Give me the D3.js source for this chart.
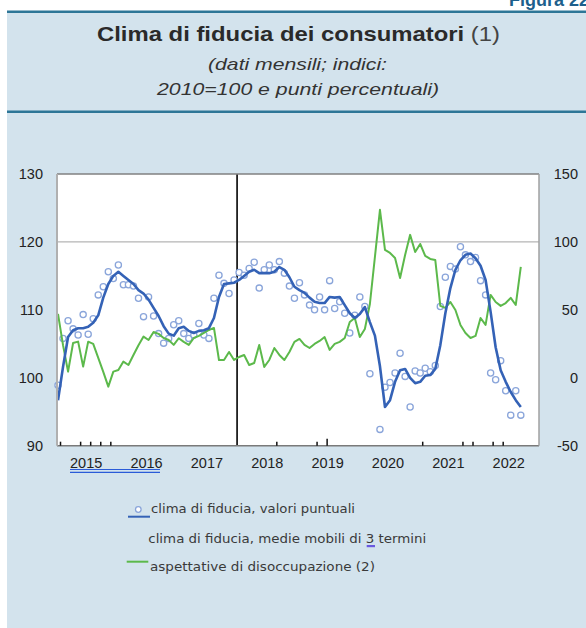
<!DOCTYPE html>
<html><head><meta charset="utf-8">
<script src="https://cdn.jsdelivr.net/npm/d3@7"></script>
<style>
html,body{margin:0;padding:0;background:#fff;}
svg{display:block;}
</style></head><body>
<svg id="chart" width="586" height="628"></svg>
<script>
// ---------- data ----------
const startYear = 2015;           // first month: January 2015
const yearLabels = ["2015","2016","2017","2018","2019","2020","2021","2022"];
const leftTicks = [90, 100, 110, 120, 130];
const rightTicks = [-50, 0, 50, 100, 150];

// Clima di fiducia, valori puntuali (left axis), Jan 2015 - Sep 2022 (Apr 2020 not surveyed)
const confidence = [
  98.9,105.8,108.4,107.2,106.3,109.3,106.4,108.7,112.2,113.4,115.6,114.6,
  116.6,113.7,113.7,113.5,111.7,109.0,111.9,109.1,106.5,105.1,105.8,107.8,
  108.4,106.5,105.8,106.3,108.0,106.3,105.8,111.7,115.1,113.9,112.4,114.4,
  115.5,115.1,116.1,117.0,113.2,115.9,116.6,115.9,117.1,115.4,113.5,111.7,
  114.0,112.2,110.7,110.0,111.9,110.0,114.3,110.2,111.2,109.5,106.6,109.2,
  111.9,110.5,100.6,null,92.4,98.6,99.3,100.7,103.6,100.2,95.7,101.0,
  100.7,101.4,100.9,101.8,110.5,114.8,116.4,116.0,119.3,118.1,117.1,117.7,
  114.3,112.2,100.7,99.7,102.5,98.1,94.5,98.1,94.5
];
// Clima di fiducia, medie mobili di 3 termini (left axis)
const confidenceMA = [
  96.7,101.6,106.0,107.0,107.3,107.3,107.5,108.1,109.2,111.8,113.8,115.0,
  115.6,115.0,114.4,113.8,112.9,112.4,111.5,110.3,109.1,107.6,106.5,106.2,
  107.3,107.5,106.9,106.6,106.9,107.0,107.3,108.8,111.9,113.8,113.9,114.0,
  114.4,115.0,115.6,115.9,115.4,115.4,115.4,115.6,116.3,115.9,114.8,113.4,
  112.9,112.5,111.8,111.2,111.0,111.0,111.9,111.8,111.9,110.7,109.5,108.8,
  109.4,110.4,108.2,106.2,101.7,95.7,96.7,99.4,101.1,101.3,100.0,99.2,
  99.4,100.3,100.4,101.3,104.8,109.5,113.2,115.9,117.3,118.1,118.3,117.6,
  116.5,114.4,109.7,104.5,101.1,99.4,97.9,96.7,95.7
];
// Aspettative di disoccupazione (right axis, saldi)
const unemploymentExp = [
  47,24,4.5,25.6,26.6,8.2,26.6,25,14.6,4.3,-6.5,4.5,
  5.7,11.9,9.4,16.8,24,30.3,27.8,33.7,32.3,29.3,27.8,24.2,
  29.1,26.4,24.2,29.3,30.8,33,35.2,36.7,13.1,13.1,19,13.1,
  15.3,16.8,9.4,10.9,24.2,8,13.1,21.9,16.8,13.1,19,26.4,
  28.6,24.2,21.9,24.9,27.1,30,20.5,24.9,26.4,29.3,41.1,44,
  30,35.9,54.3,null,123.6,94.1,91.9,88.2,73.5,90.4,105.2,92.6,
  98.5,89.7,87.5,86.7,52.9,51.4,55.8,49.9,38.9,33,29.3,30.8,
  44,38.9,61,55.8,52.9,55,58.8,53.6,81.6
];
const breakMonth = 35.6;   // vertical marker (end of 2017)
const strayTicks = [0.5,4.5,6.5,8.5,10.5,43.5,51.5,53.5,72.5,80.5,82.5,86.5,88.5];
const legendLabels = [
  "clima di fiducia, valori puntuali",
  "clima di fiducia, medie mobili di 3 termini",
  "aspettative di disoccupazione (2)"
];

const months = d3.range(confidence.length).map(i => ({
  idx: i, year: startYear + Math.floor(i / 12), month: i % 12 + 1
}));

// ---------- layout ----------
const svg = d3.select("#chart");
const W = 586, H = 628;
const P = {left: 57, right: 539, top: 174, bottom: 445.7};
const colBlue = "#3462b6", colCirc = "#8aa5da", colGreen = "#5cb94b";
const sans = "Liberation Sans, Arial, sans-serif";

svg.append("rect").attr("width", W).attr("height", H).attr("fill", "#fff");
svg.append("rect").attr("x", 7).attr("y", 11).attr("width", W - 7).attr("height", H - 11).attr("fill", "#d3e3ed");
svg.append("line").attr("x1", 7).attr("x2", W).attr("y1", 11.7).attr("y2", 11.7).attr("stroke", "#2d7697").attr("stroke-width", 2.4);
svg.append("line").attr("x1", 7).attr("x2", W).attr("y1", 111.7).attr("y2", 111.7).attr("stroke", "#2d7697").attr("stroke-width", 2.4);

svg.append("text").attr("x", 509).attr("y", 6).attr("font-family", sans)
  .attr("font-size", 18).attr("font-weight", "bold").attr("fill", "#1d5f8c").text("Figura 22");

const title = svg.append("text").attr("x", 97).attr("y", 41)
  .attr("font-family", sans).attr("font-size", 21).attr("fill", "#2a2a2a")
  .attr("textLength", 403).attr("lengthAdjust", "spacingAndGlyphs");
title.append("tspan").attr("font-weight", "bold").text("Clima di fiducia dei consumatori ");
title.append("tspan").attr("fill", "#444").text("(1)");

svg.append("text").attr("x", 208).attr("y", 70)
  .attr("font-family", sans).attr("font-size", 17).attr("font-style", "italic")
  .attr("textLength", 179).attr("lengthAdjust", "spacingAndGlyphs")
  .attr("fill", "#333").text("(dati mensili; indici:");
svg.append("text").attr("x", 157).attr("y", 95)
  .attr("font-family", sans).attr("font-size", 17).attr("font-style", "italic")
  .attr("textLength", 282).attr("lengthAdjust", "spacingAndGlyphs")
  .attr("fill", "#333").text("2010=100 e punti percentuali)");

// ---------- scales ----------
const x = d3.scaleLinear().domain([0, 92]).range([58, 520.8]);
const yL = d3.scaleLinear().domain([90, 130]).range([P.bottom, P.top]);
const yR = d3.scaleLinear().domain([-50, 150]).range([P.bottom, P.top]);

svg.append("rect").attr("x", P.left).attr("y", P.top).attr("width", P.right - P.left)
  .attr("height", P.bottom - P.top).attr("fill", "#fff");

// gridline
svg.append("line").attr("x1", P.left).attr("x2", P.right).attr("y1", yL(120)).attr("y2", yL(120))
  .attr("stroke", "#b5b5b5").attr("stroke-width", 1.3);

// vertical marker
svg.append("line").attr("x1", x(breakMonth)).attr("x2", x(breakMonth)).attr("y1", P.top).attr("y2", P.bottom)
  .attr("stroke", "#111").attr("stroke-width", 1.7);

// circles
const pts = months.map(m => ({i: m.idx, v: confidence[m.idx]})).filter(d => d.v != null);
svg.append("g").selectAll("circle").data(pts).join("circle")
  .attr("cx", d => x(d.i)).attr("cy", d => yL(d.v)).attr("r", 3.1)
  .attr("fill", "#fff").attr("stroke", colCirc).attr("stroke-width", 1.3);

// green line
const gData = months.map(m => ({i: m.idx, v: unemploymentExp[m.idx]})).filter(d => d.v != null);
svg.append("path").datum(gData)
  .attr("d", d3.line().x(d => x(d.i)).y(d => yR(d.v)))
  .attr("fill", "none").attr("stroke", colGreen).attr("stroke-width", 2).attr("stroke-linejoin", "round");

// blue moving average
const bData = months.map(m => ({i: m.idx, v: confidenceMA[m.idx]}));
svg.append("path").datum(bData)
  .attr("d", d3.line().x(d => x(d.i)).y(d => yL(d.v)))
  .attr("fill", "none").attr("stroke", colBlue).attr("stroke-width", 2.6).attr("stroke-linejoin", "round");

// frame
svg.append("line").attr("x1", P.left).attr("x2", P.right).attr("y1", P.top).attr("y2", P.top).attr("stroke", "#808080").attr("stroke-width", 1.5);
svg.append("line").attr("x1", P.left).attr("x2", P.right).attr("y1", P.bottom).attr("y2", P.bottom).attr("stroke", "#7a7a7a").attr("stroke-width", 1.5);
svg.append("line").attr("x1", P.left).attr("x2", P.left).attr("y1", P.top).attr("y2", P.bottom).attr("stroke", "#b0b0b0").attr("stroke-width", 2);
svg.append("line").attr("x1", P.right).attr("x2", P.right).attr("y1", P.top).attr("y2", P.bottom).attr("stroke", "#a0a0a0").attr("stroke-width", 1.5);

// stray ticks
svg.append("g").selectAll("line").data(strayTicks).join("line")
  .attr("x1", d => x(d)).attr("x2", d => x(d))
  .attr("y1", d => d === 53.5 ? P.bottom - 7 : P.bottom - 4).attr("y2", P.bottom)
  .attr("stroke", "#111").attr("stroke-width", 1.5);

// axes
function styleAxis(g) {
  g.select(".domain").remove();
  g.selectAll(".tick line").remove();
  g.selectAll("text").attr("font-family", sans).attr("font-size", 14.5).attr("fill", "#222");
}
svg.append("g").attr("transform", `translate(${P.left},0)`)
  .call(d3.axisLeft(yL).tickValues(leftTicks).tickSize(0).tickPadding(14).tickFormat(d3.format("d")))
  .call(styleAxis);
svg.append("g").attr("transform", `translate(${P.right},0)`)
  .call(d3.axisRight(yR).tickValues(rightTicks).tickSize(0).tickPadding(39).tickFormat(d => d < 0 ? "-" + Math.abs(d) : d))
  .call(styleAxis)
  .call(g => g.selectAll("text").attr("text-anchor", "end"));
svg.append("g").attr("transform", `translate(0,${P.bottom})`)
  .call(d3.axisBottom(x).tickValues(yearLabels.map((_, k) => 12 * k + 5.5)).tickSize(0).tickPadding(12)
    .tickFormat((d, k) => yearLabels[k]))
  .call(styleAxis);

// blue double underline under 2015-2016
[469.5, 472.3].forEach(yy => svg.append("line").attr("x1", 70).attr("x2", 160).attr("y1", yy).attr("y2", yy)
  .attr("stroke", "#2a5bd8").attr("stroke-width", 1.2));

// ---------- legend ----------
const lg = svg.append("g").attr("font-family", "DejaVu Sans, sans-serif").attr("font-size", 12.5).attr("fill", "#3a3a3a");
lg.append("line").attr("x1", 128).attr("x2", 150).attr("y1", 516.7).attr("y2", 516.7).attr("stroke", colBlue).attr("stroke-width", 2);
lg.append("circle").attr("cx", 138.3).attr("cy", 509.5).attr("r", 2.8).attr("fill", "#fff").attr("stroke", colCirc).attr("stroke-width", 1.3);
lg.append("text").attr("x", 151).attr("y", 513).attr("textLength", 204).attr("lengthAdjust", "spacingAndGlyphs").text(legendLabels[0]);
lg.append("text").attr("x", 148.3).attr("y", 543).attr("textLength", 278).attr("lengthAdjust", "spacingAndGlyphs").text(legendLabels[1]);
lg.append("rect").attr("x", 366.7).attr("y", 545).attr("width", 8.3).attr("height", 2.2).attr("fill", "#6a5ae0");
lg.append("line").attr("x1", 126.7).attr("x2", 148.3).attr("y1", 561.7).attr("y2", 561.7).attr("stroke", colGreen).attr("stroke-width", 2);
lg.append("text").attr("x", 150).attr("y", 571).attr("textLength", 225).attr("lengthAdjust", "spacingAndGlyphs").text(legendLabels[2]);
</script>
</body></html>
